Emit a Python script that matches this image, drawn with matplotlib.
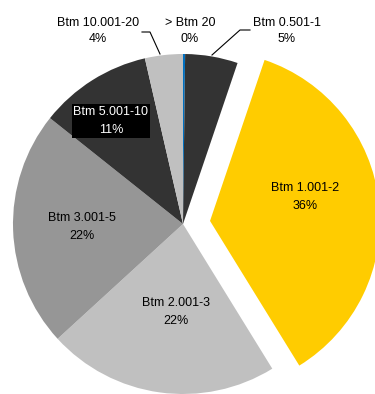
import matplotlib
matplotlib.use("Agg")
import matplotlib.pyplot as plt

plt.rcParams['font.family'] = ['Liberation Sans', 'DejaVu Sans']

labels = ['> Btm 20', 'Btm 0.501-1', 'Btm 1.001-2', 'Btm 2.001-3',
          'Btm 3.001-5', 'Btm 5.001-10', 'Btm 10.001-20']
shares = [0.2, 5.0, 36.0, 22.0, 22.5, 10.7, 3.6]
pct_text = ['0%', '5%', '36%', '22%', '22%', '11%', '4%']
colors = ['#0070C0', '#333333', '#FFCC00', '#C0C0C0', '#969696', '#333333', '#C0C0C0']
explode = [0, 0, 0.16, 0, 0, 0, 0]

W, H = 375, 394
CX, CY, R = 183, 224, 170


def px(x, y):
    # pixel -> data coords (pie radius = 1)
    return (x - CX) / R, (CY - y) / R


fig = plt.figure(figsize=(W / 100, H / 100), dpi=100)
ax = fig.add_axes([0, 0, 1, 1])
ax.pie(shares, colors=colors, explode=explode, startangle=90,
       counterclock=False, radius=1, center=(0, 0),
       wedgeprops=dict(linewidth=0))
x0, y0 = px(0, H)
x1, y1 = px(W, 0)
ax.set_xlim(x0, x1)
ax.set_ylim(y0, y1)
ax.set_aspect('equal')
ax.axis('off')

fs = 9
inside = {2: (305, 197), 3: (176, 312), 4: (82, 227)}
for i, (x, y) in inside.items():
    ax.text(*px(x, y), f'{labels[i]}\n{pct_text[i]}', ha='center', va='center',
            fontsize=fs, linespacing=1.74, color='#000000')

ax.text(*px(111, 121), f'{labels[5]}\n{pct_text[5]}', ha='center', va='center',
        fontsize=fs, linespacing=1.74, color='white',
        bbox=dict(boxstyle='square,pad=0.1', fc='black', ec='none'))

outside = {6: (98, 31), 0: (190, 31), 1: (287, 31)}
for i, (x, y) in outside.items():
    ax.text(*px(x, y), f'{labels[i]}\n{pct_text[i]}', ha='center', va='center',
            fontsize=fs, linespacing=1.42, color='#000000')

# leader lines
for pts in ([(160, 54), (150, 32), (142, 32)],
            [(212, 55), (240, 30), (250, 30)]):
    xs, ys = zip(*[px(a, b) for a, b in pts])
    ax.plot(xs, ys, color='black', lw=0.8)

fig.savefig('out.png', dpi=100)
